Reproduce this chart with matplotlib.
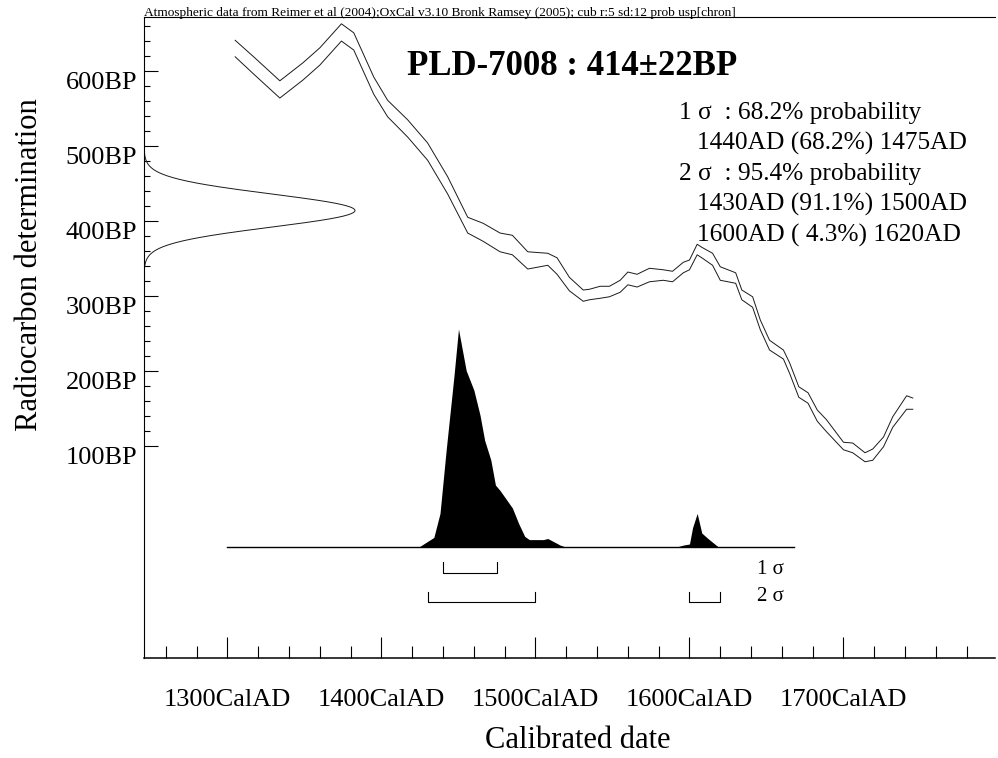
import numpy as np
import matplotlib.pyplot as plt
from matplotlib.transforms import offset_copy

# 글씨체 설정 (Times 계열)
plt.rcParams['font.family'] = ['Liberation Serif', 'DejaVu Serif']

# 측정값
lab_code = 'PLD-7008'
bp_mean = 414
bp_err = 22

# calibration curve band, upper / lower edge (BP)
curve_year = [1305, 1317, 1334, 1349, 1360, 1374, 1382, 1395, 1404, 1417,
              1430, 1443, 1456, 1466, 1477, 1485, 1495, 1508, 1514, 1522,
              1531, 1535, 1542, 1548, 1555, 1560, 1566, 1574, 1583, 1589,
              1596, 1600, 1605, 1608, 1615, 1620, 1630, 1634, 1641, 1646,
              1652, 1661, 1665, 1671, 1677, 1683, 1689, 1700, 1706, 1714,
              1719, 1726, 1732, 1741, 1745]
curve_upper = [641, 619, 587, 611, 631, 663, 651, 592, 561, 535,
               504, 459, 405, 397, 384, 381, 359, 357, 351, 325,
               308, 309, 313, 313, 321, 332, 329, 337, 335, 333,
               345, 348, 369, 365, 357, 339, 331, 308, 299, 268,
               241, 228, 211, 179, 171, 148, 135, 105, 104, 91,
               96, 112, 139, 167, 164]
curve_lower = [619, 596, 564, 588, 608, 640, 628, 569, 539, 512,
               481, 436, 384, 373, 359, 355, 336, 341, 329, 307,
               293, 295, 297, 299, 305, 315, 312, 319, 321, 319,
               331, 335, 355, 351, 341, 321, 317, 295, 285, 255,
               228, 216, 197, 165, 157, 133, 119, 95, 91, 79,
               81, 99, 125, 149, 149]

# calibrated distribution (relative probability)
prob_year = [1424, 1434, 1438, 1442, 1447, 1450, 1455, 1460, 1464, 1467,
             1471, 1474, 1477, 1480, 1485, 1489, 1493, 1496, 1505, 1508,
             1512, 1516, 1520, 1591, 1596, 1600, 1602, 1605, 1608, 1612, 1619]
prob_rel = [0, 0.045, 0.155, 0.445, 0.78, 1.0, 0.81, 0.72, 0.605, 0.49,
            0.40, 0.285, 0.26, 0.23, 0.18, 0.11, 0.05, 0.035, 0.035, 0.04,
            0.025, 0.01, 0, 0, 0.01, 0.015, 0.09, 0.155, 0.065, 0.04, 0]

# 1 sigma / 2 sigma ranges
sig1_ranges = [(1440, 1475)]
sig2_ranges = [(1430, 1500), (1600, 1620)]

stats_head = ['1 σ  : 68.2% probability', '2 σ  : 95.4% probability']
stats_sig1 = ['1440AD (68.2%) 1475AD']
stats_sig2 = ['1430AD (91.1%) 1500AD', '1600AD ( 4.3%) 1620AD']

header = ('Atmospheric data from Reimer et al (2004);OxCal v3.10 Bronk Ramsey (2005); '
          'cub r:5 sd:12 prob usp[chron]')

bp_ticks = [100, 200, 300, 400, 500, 600]
cal_ticks = [1300, 1400, 1500, 1600, 1700]

fig = plt.figure(figsize=(9.98, 7.58), dpi=100)
ax = fig.add_axes([0.1443, 0.1319, 0.8527, 0.8456])
ax.set_xlim(1245.8, 1798.4)
ax.set_ylim(-182.7, 672)

lw = 0.8
ink = '#1a1a1a'
# calibration curve
ax.plot(curve_year, curve_upper, color=ink, lw=0.7)
ax.plot(curve_year, curve_lower, color=ink, lw=0.7)

# 측정값 분포 (y축)
bp = np.linspace(bp_mean - 4 * bp_err, bp_mean + 4 * bp_err, 300)
g = np.exp(-0.5 * ((bp - bp_mean) / bp_err) ** 2)
x0 = ax.get_xlim()[0]
ax.plot(x0 + g * 137, bp, color=ink, lw=0.7)

# calibrated distribution
base = -35
height = 291
ax.fill_between(prob_year, base, base + np.array(prob_rel) * height,
                color='black', lw=0)
ax.plot([1300, 1668], [base, base], color='black', lw=1.0)


def bracket(ranges, level):
    for a, b in ranges:
        ax.plot([a, a, b, b], [level + 14, level, level, level + 14],
                color='black', lw=lw)


bracket(sig1_ranges, -69)
bracket(sig2_ranges, -108)
ax.text(1644, -65, '1 σ', fontsize=15, va='center')
ax.text(1644, -101, '2 σ', fontsize=15, va='center')

# axes
ax.spines['right'].set_visible(False)
for s in ['left', 'top']:
    ax.spines[s].set_linewidth(lw)
ax.spines['bottom'].set_linewidth(1.1)

ax.set_yticks(bp_ticks)
ax.set_yticklabels([f'{v}BP' for v in bp_ticks])
ax.set_yticks([v for v in range(100, 680, 20) if v % 100], minor=True)
ax.set_xticks(cal_ticks)
ax.set_xticklabels([f'{v}CalAD' for v in cal_ticks])
ax.set_xticks([v for v in range(1260, 1800, 20) if v % 100], minor=True)

ax.tick_params(which='both', direction='in', width=lw, top=False, right=False)
ax.tick_params(axis='y', which='major', length=10, labelsize=19, pad=5)
ax.tick_params(axis='y', which='minor', length=4.5)
ax.tick_params(axis='x', which='major', length=15, labelsize=19, pad=22)
ax.tick_params(axis='x', which='minor', length=9)

# BP 라벨은 눈금보다 조금 아래
for lab in ax.get_yticklabels():
    lab.set_transform(offset_copy(lab.get_transform(), fig=fig, x=0, y=-9, units='dots'))

# texts
ax.text(0, 1, header, transform=offset_copy(ax.transAxes, fig=fig, y=1, units='dots'),
        fontsize=9.6, va='baseline', ha='left')
fig.text(407 / 998, 1 - 75 / 758, f'{lab_code} : {bp_mean}±{bp_err}BP',
         fontsize=25, fontweight='bold', va='baseline', ha='left')

rows = [(stats_head[0], 679), (stats_sig1[0], 697), (stats_head[1], 679),
        (stats_sig2[0], 697), (stats_sig2[1], 697)]
for i, (txt, xp) in enumerate(rows):
    fig.text(xp / 998, 1 - (113 + i * 30.5) / 758, txt, fontsize=18.3,
             va='center', ha='left')

fig.text(30 / 998, 1 - 265 / 758, 'Radiocarbon determination', fontsize=22,
         rotation=90, ha='center', va='center')
fig.text(578 / 998, 1 - 740 / 758, 'Calibrated date', fontsize=22,
         ha='center', va='center')

fig.savefig('out.png', dpi=100)
